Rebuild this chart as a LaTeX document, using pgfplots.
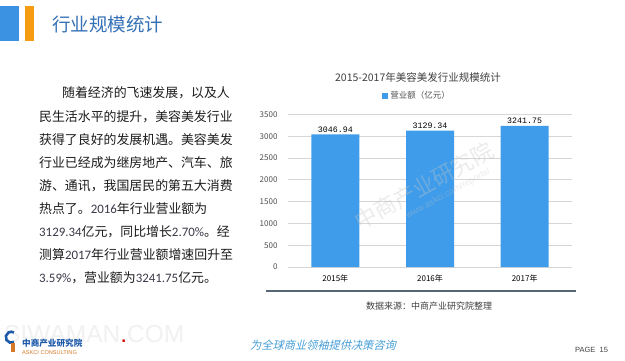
\documentclass[border=0pt]{standalone}
\usepackage{fontspec}
\usepackage{pgfplots}
\pgfplotsset{compat=1.18}
\setmainfont{Liberation Sans}
\newfontfamily\cjk{Noto Sans CJK SC}
\newfontfamily\cjkit{Noto Sans CJK SC}[FakeSlant=0.25]
\newfontfamily\num{Carlito}
\newfontfamily\mono{Liberation Mono}
\definecolor{barblue}{RGB}{62,156,234}
\definecolor{hdrblue}{RGB}{60,146,226}
\definecolor{hdrorange}{RGB}{246,156,18}
\definecolor{titleblue}{RGB}{52,112,182}
\definecolor{txt}{RGB}{28,28,28}
\definecolor{numtxt}{RGB}{60,56,72}
\definecolor{ticktxt}{RGB}{80,80,80}
\definecolor{gridc}{RGB}{214,214,214}
\definecolor{slate}{RGB}{86,102,118}
\definecolor{slogan}{RGB}{70,158,216}
\definecolor{logoblue}{RGB}{30,90,170}
\definecolor{logoorange}{RGB}{214,120,40}
\newcommand\n[1]{{\num\color{numtxt}#1}}
\begin{document}
\begin{tikzpicture}[x=1pt,y=-1pt]
\fill[white] (0,0) rectangle (625,360);
% header
\fill[hdrblue] (0,6) rectangle (19,41);
\fill[hdrorange] (25,6) rectangle (34,41);
\node[anchor=west, inner sep=0pt, text=titleblue, font=\cjk\fontsize{18.5}{20}\selectfont] at (52,24) {行业规模统计};
% left text
\begin{scope}[every node/.style={anchor=west, inner sep=0pt, text=txt, font=\cjk\fontsize{12.9}{14}\selectfont}]
\node at (62,93) {随着经济的飞速发展，以及人};
\node at (39,116.5) {民生活水平的提升，美容美发行业};
\node at (39,139.5) {获得了良好的发展机遇。美容美发};
\node at (39,162.5) {行业已经成为继房地产、汽车、旅};
\node at (39,185.5) {游、通讯，我国居民的第五大消费};
\node at (39,208.5) {热点了。\n{ 2016}年行业营业额为};
\node at (39,231.5) {\n{3129.34}亿元，同比增长\n{2.70\%}。经};
\node at (39,254.5) {测算\n{2017}年行业营业额增速回升至};
\node at (39,277.5) {\n{3.59\%}，营业额为\n{3241.75}亿元。};
\end{scope}
% chart title
\node[inner sep=0pt, text=ticktxt!80!black, font=\cjk\fontsize{10.5}{12}\selectfont] at (418,77) {2015-2017年美容美发行业规模统计};
\begin{axis}[
  at={(288pt,-267pt)}, anchor=south west, scale only axis,
  width=284pt, height=152.5pt,
  xmin=-0.5, xmax=2.5, ymin=0, ymax=3500,
  ybar, bar width=48pt,
  axis line style={draw=none},
  major tick length=0pt,
  xtick={0,1,2}, xticklabels={2015年,2016年,2017年},
  ytick={0,500,...,3500},
  ymajorgrids, grid style={gridc, line width=0.8pt},
  /pgf/number format/1000 sep={},
  /pgf/number format/assume math mode=true,
  tick label style={font=\cjk\fontsize{8}{9}\selectfont, text=ticktxt},
  xticklabel style={yshift=-4pt, text=black},
  yticklabel style={xshift=-7pt},
  point meta=explicit symbolic,
  nodes near coords,
  nodes near coords style={font=\mono\fontsize{8.3}{9}\selectfont, text=black, inner sep=1.5pt},
  legend style={draw=none, fill=none, at={(0.455,1)}, anchor=south, yshift=12pt,
    font=\cjk\fontsize{8.5}{9}\selectfont, text=ticktxt, inner sep=0pt},
  legend image code/.code={\fill[barblue] (0pt,-3pt) rectangle (6pt,3pt);},
]
\addplot[fill=barblue, draw=none] table[x=x, y=y, meta=lab] {
x y lab
0 3046.94 3046.94
1 3129.34 3129.34
2 3241.75 3241.75
};
\addlegendentry{营业额（亿元）}
\end{axis}
% watermark
\node[rotate=29, text=white!55!gray, text opacity=0.35, font=\cjk\fontsize{22}{24}\selectfont] at (424,186) {中商产业研究院};
\node[rotate=29, text=white!55!gray, text opacity=0.35, font=\fontsize{9}{10}\selectfont] at (448,194) {www.askci.com/reports/};
% bottom rule and source
\draw[slate, line width=1.6pt] (266,291) -- (576,291);
\node[inner sep=0pt, text=ticktxt!80!black, font=\cjk\fontsize{9}{10}\selectfont] at (429,306) {数据来源：中商产业研究院整理};
% footer
\node[anchor=base west, inner sep=0pt, text=gray!11, font=\fontsize{24.5}{26}\selectfont] at (4,342) {SIWAMAN\textcolor{red!85!black}{.}COM};
\draw[logoblue, line width=2.6pt] (14,342) arc (60:300:5.5);
\fill[logoorange] (11,342.5) rectangle (14.5,351.5);
\node[anchor=west, inner sep=0pt, text=logoblue, font=\cjk\bfseries\fontsize{8.6}{9}\selectfont] at (22,343) {中商产业研究院};
\node[anchor=west, inner sep=0pt, text=logoorange, font=\fontsize{5.6}{6}\selectfont] at (22,352.5) {ASKCI CONSULTING};
\node[anchor=west, inner sep=0pt, text=slogan, font=\cjkit\fontsize{11.2}{12}\selectfont] at (250,345) {为全球商业领袖提供决策咨询};
\node[anchor=west, inner sep=0pt, text=ticktxt!80!black, font=\fontsize{7.5}{8}\selectfont] at (575,350) {PAGE\ \ 15};
\end{tikzpicture}
\end{document}
